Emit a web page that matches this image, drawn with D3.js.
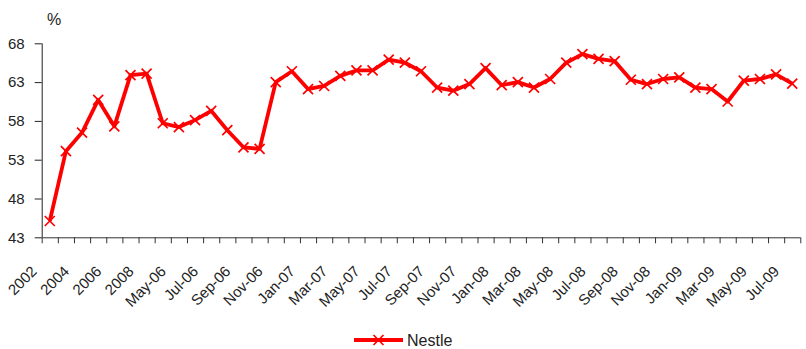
<!DOCTYPE html>
<html lang="en">
<head>
    <meta charset="UTF-8">
    <title>Nestle</title>
    <script src="https://d3js.org/d3.v7.min.js"></script>
    <style>
        body { margin: 0; background: #fff; }
        text { font-family: "Liberation Sans Narrow", "Arial Narrow", "Liberation Sans", Arial, sans-serif; fill: #222; }
    </style>
</head>
<body>
    <div id="chart"></div>

    <script>
        // categories as they appear on the x axis (only every other one is labelled)
        var categories = ["2002", "2003", "2004", "2005", "2006", "2007", "2008",
            "Apr-06", "May-06", "Jun-06", "Jul-06", "Aug-06", "Sep-06", "Oct-06", "Nov-06", "Dec-06",
            "Jan-07", "Feb-07", "Mar-07", "Apr-07", "May-07", "Jun-07", "Jul-07", "Aug-07", "Sep-07", "Oct-07", "Nov-07", "Dec-07",
            "Jan-08", "Feb-08", "Mar-08", "Apr-08", "May-08", "Jun-08", "Jul-08", "Aug-08", "Sep-08", "Oct-08", "Nov-08", "Dec-08",
            "Jan-09", "Feb-09", "Mar-09", "Apr-09", "May-09", "Jun-09", "Jul-09"];

        var nestle = [45.1, 54.1, 56.5, 60.7, 57.3, 63.9, 64.1,
            57.7, 57.2, 58.1, 59.3, 56.8, 54.6, 54.4, 63.0, 64.4,
            62.1, 62.5, 63.8, 64.5, 64.5, 65.9, 65.5, 64.4, 62.3, 61.9, 62.75, 64.8,
            62.6, 63.0, 62.3, 63.4, 65.5, 66.6, 66.0, 65.7, 63.3, 62.75, 63.4, 63.6,
            62.3, 62.1, 60.5, 63.2, 63.4, 64.0, 62.8];

        var yTicks = [43, 48, 53, 58, 63, 68];
        var seriesName = "Nestle";

        var W = 806, H = 349;
        var plotLeft = 41.7, plotRight = 800.3, plotTop = 43.3, plotBottom = 237.3;

        var svg = d3.select("#chart").append("svg")
            .attr("width", W)
            .attr("height", H);

        var x = d3.scaleBand()
            .domain(categories)
            .range([plotLeft, plotRight])
            .padding(0);

        // edges of the categories, where the tick marks go
        var xEdge = d3.scaleLinear()
            .domain([0, categories.length])
            .range([plotLeft, plotRight]);

        var y = d3.scaleLinear()
            .domain([43, 68])
            .range([plotBottom, plotTop]);

        // y axis
        var yAxis = svg.append("g")
            .attr("transform", "translate(" + plotLeft + ",0)")
            .call(d3.axisLeft(y).tickValues(yTicks).tickSize(7).tickPadding(10));
        yAxis.selectAll("text").style("font-size", "15px");
        yAxis.selectAll("line, path").attr("stroke", "#222");
        yAxis.select(".domain").attr("d", "M0.5," + plotTop + "V" + plotBottom);

        // x axis: ticks between categories
        var xAxis = svg.append("g")
            .attr("transform", "translate(0," + plotBottom + ")")
            .call(d3.axisBottom(xEdge).tickValues(d3.range(categories.length + 1)).tickSize(6).tickFormat(""));
        xAxis.selectAll("line, path").attr("stroke", "#333");
        xAxis.select(".domain").attr("d", "M" + plotLeft + ",0.5H" + plotRight);

        // x labels, rotated
        svg.append("g")
            .selectAll("text")
            .data(categories.filter(function(d, i) { return i % 2 === 0; }))
            .enter()
            .append("text")
            .attr("transform", function(d) {
                return "translate(" + (x(d) + x.bandwidth() / 2 - 12) + "," + (plotBottom + 35) + ") rotate(-45)";
            })
            .attr("text-anchor", "end")
            .style("font-size", "15px")
            .text(function(d) { return d; });

        // unit label
        svg.append("text")
            .attr("x", 47)
            .attr("y", 25)
            .style("font-size", "16px")
            .text("%");

        // the line
        var line = d3.line()
            .x(function(d, i) { return x(categories[i]) + x.bandwidth() / 2; })
            .y(function(d) { return y(d); });

        svg.append("path")
            .datum(nestle)
            .attr("fill", "none")
            .attr("stroke", "#ff0000")
            .attr("stroke-width", 3.8)
            .attr("stroke-linejoin", "round")
            .attr("d", line);

        var cross = "M-5,-5L5,5M-5,5L5,-5";

        svg.append("g")
            .selectAll("path")
            .data(nestle)
            .enter()
            .append("path")
            .attr("transform", function(d, i) {
                return "translate(" + (x(categories[i]) + x.bandwidth() / 2) + "," + y(d) + ")";
            })
            .attr("d", cross)
            .attr("stroke", "#ff0000")
            .attr("stroke-width", 1.7)
            .attr("fill", "none");

        // legend
        var legend = svg.append("g").attr("transform", "translate(354,340)");
        legend.append("line")
            .attr("x1", 0).attr("x2", 49)
            .attr("y1", 0).attr("y2", 0)
            .attr("stroke", "#ff0000")
            .attr("stroke-width", 3.8);
        legend.append("path")
            .attr("transform", "translate(24.5,0)")
            .attr("d", cross)
            .attr("stroke", "#ff0000")
            .attr("stroke-width", 1.7)
            .attr("fill", "none");
        legend.append("text")
            .attr("x", 53)
            .attr("y", 5.5)
            .style("font-size", "16px")
            .text(seriesName);
    </script>
</body>
</html>
